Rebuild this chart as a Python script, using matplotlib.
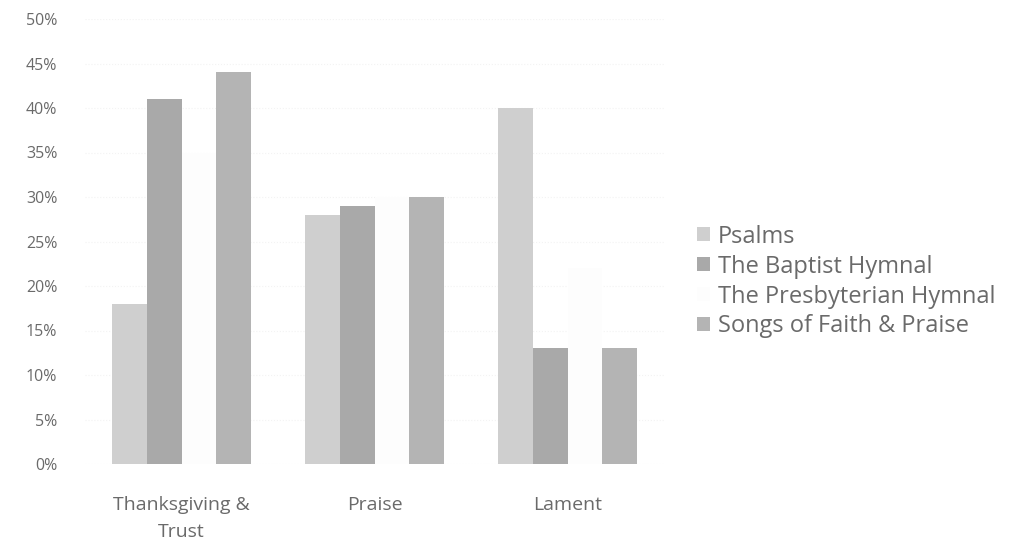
import matplotlib.pyplot as plt
import numpy as np

categories = ["Thanksgiving &\nTrust", "Praise", "Lament"]
series = ["Psalms", "The Baptist Hymnal", "The Presbyterian Hymnal", "Songs of Faith & Praise"]
psalms = [18, 28, 40]
baptist = [41, 29, 13]
presbyterian = [35, 30, 22]
songs = [44, 30, 13]
values = [psalms, baptist, presbyterian, songs]
colors = ["#cfcfcf", "#a9a9a9", "#fdfdfd", "#b4b4b4"]

plt.rcParams['font.family'] = ['Open Sans', 'DejaVu Sans']
txt = "#6a6a6a"

fig = plt.figure(figsize=(10.17, 5.52), dpi=100)
ax = fig.add_axes([85 / 1017, 1 - 464 / 552, 579 / 1017, 445 / 552])

x = np.arange(len(categories))
w = 0.18
for i, (name, vals, c) in enumerate(zip(series, values, colors)):
    ax.bar(x + (i - 1.5) * w, vals, width=w, color=c, label=name, zorder=2)

ax.set_xlim(-0.5, 2.5)
ax.set_ylim(0, 50)
ax.set_yticks(range(0, 51, 5))
ax.set_yticklabels([f"{v}%" for v in range(0, 51, 5)], color=txt, fontsize=11.5)
ax.set_xticks(x)
ax.set_xticklabels(categories, color=txt, fontsize=14, linespacing=1.65)
ax.tick_params(length=0)
ax.tick_params(axis='y', pad=20)
ax.tick_params(axis='x', pad=23)
ax.yaxis.grid(True, color="#f3f3f3", linestyle=":", linewidth=0.8, zorder=0)
for s in ax.spines.values():
    s.set_visible(False)

leg = ax.legend(loc="center left", bbox_to_anchor=(1.02, 0.41), frameon=False,
                fontsize=17, handlelength=0.55, handleheight=0.55, handletextpad=0.35,
                labelspacing=0.25, labelcolor=txt)

fig.savefig("out.png", dpi=100)
